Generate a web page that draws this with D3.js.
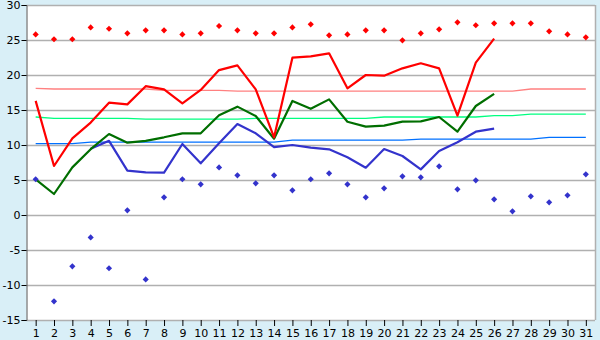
<!DOCTYPE html>
<html>
<head>
<meta charset="utf-8">
<script src="https://cdn.jsdelivr.net/npm/d3@7"></script>
<style>
  html, body { margin: 0; padding: 0; background: #d9eff7; }
  svg { display: block; }
  .tick text { font-family: "DejaVu Sans", sans-serif; font-size: 11px; fill: #000; }
</style>
</head>
<body>
<div id="chart"></div>
<script>
// days of the month
const days = d3.range(1, 32);

// daily max / mean / min (null = no data)
const maxT = [16.3, 7.0, 10.95, 13.2, 16.05, 15.8, 18.4, 17.95, 15.95, 17.86, 20.7, 21.38, 17.95, 11.1, 22.48, 22.65, 23.1, 18.1, 20.0, 19.9, 20.95, 21.67, 20.95, 14.2, 21.76, 25.2,
  null, null, null, null, null];
const meanT = [5.1, 3.0, 6.8, 9.4, 11.57, 10.33, 10.6, 11.1, 11.67, 11.67, 14.24, 15.48, 14.14, 10.9, 16.3, 15.17, 16.52, 13.33, 12.62, 12.76, 13.33, 13.38, 14.0, 11.9, 15.57, 17.3,
  null, null, null, null, null];
const minT = [null, null, null, 9.45, 10.6, 6.33, 6.1, 6.05, 10.14, 7.38, 10.24, 13.0, 11.67, 9.7, 10.0, 9.62, 9.38, 8.24, 6.76, 9.43, 8.43, 6.52, 9.14, 10.4, 11.9, 12.33,
  null, null, null, null, null];

// normals
const normMax = [18.1, 18.0, 18.0, 18.0, 18.0, 18.0, 18.0, 17.8, 17.8, 17.8, 17.8, 17.7, 17.7, 17.7, 17.7, 17.7, 17.7, 17.7, 17.7, 17.7, 17.7, 17.7, 17.7, 17.7, 17.7, 17.7, 17.7, 18.0, 18.0, 18.0, 18.0];
const normMean = [14.0, 13.8, 13.8, 13.8, 13.8, 13.8, 13.7, 13.7, 13.7, 13.7, 13.7, 13.7, 13.8, 13.8, 13.8, 13.8, 13.8, 13.8, 13.8, 14.0, 14.0, 14.0, 14.0, 14.0, 14.0, 14.2, 14.2, 14.4, 14.4, 14.4, 14.4];
const normMin = [10.2, 10.2, 10.2, 10.4, 10.4, 10.4, 10.4, 10.4, 10.4, 10.4, 10.4, 10.4, 10.4, 10.4, 10.7, 10.7, 10.7, 10.7, 10.7, 10.7, 10.7, 10.85, 10.85, 10.85, 10.85, 10.85, 10.85, 10.85, 11.1, 11.1, 11.1];

// records
const recHigh = [25.8, 25.1, 25.1, 26.8, 26.6, 25.95, 26.38, 26.38, 25.8, 25.95, 27.0, 26.38, 25.95, 25.95, 26.8, 27.24, 25.67, 25.8, 26.38, 26.38, 24.95, 25.95, 26.52, 27.52, 27.1, 27.38, 27.38, 27.38, 26.24, 25.8, 25.38];
const recLow = [5.1, -12.33, -7.33, -3.2, -7.6, 0.67, -9.2, 2.52, 5.1, 4.38, 6.8, 5.67, 4.52, 5.67, 3.52, 5.1, 5.95, 4.38, 2.52, 3.81, 5.52, 5.38, 6.95, 3.67, 4.95, 2.24, 0.52, 2.67, 1.81, 2.81, 5.81];

const yTicks = [-15, -10, -5, 0, 5, 10, 15, 20, 25, 30];

const width = 600, height = 340;
const margin = {top: 5, right: 5, bottom: 20, left: 26.5};

const svg = d3.select("#chart").append("svg")
  .attr("width", width).attr("height", height);

const x = d3.scalePoint()
  .domain(days)
  .range([margin.left, width - margin.right])
  .padding(0.5);

const y = d3.scaleLinear()
  .domain([-15, 30])
  .range([height - margin.bottom, margin.top]);

// plot background
svg.append("rect")
  .attr("x", margin.left).attr("y", margin.top)
  .attr("width", width - margin.right - margin.left)
  .attr("height", height - margin.bottom - margin.top)
  .attr("fill", "#fff");

// grid lines
svg.append("g")
  .selectAll("line").data(yTicks).join("line")
  .attr("x1", margin.left).attr("x2", width - margin.right)
  .attr("y1", d => Math.round(y(d)) + 0.5).attr("y2", d => Math.round(y(d)) + 0.5)
  .attr("stroke", "#b0b0b0").attr("stroke-width", 1.5);

// right border
svg.append("line")
  .attr("x1", width - margin.right + 0.5).attr("x2", width - margin.right + 0.5)
  .attr("y1", margin.top).attr("y2", height - margin.bottom)
  .attr("stroke", "#b0b0b0").attr("stroke-width", 1.5);

// axes
const yAxis = svg.append("g")
  .attr("transform", `translate(${margin.left},0)`)
  .call(d3.axisLeft(y).tickValues(yTicks).tickSize(5).tickFormat(d3.format("d")));
yAxis.select(".domain").attr("stroke", "#555");
yAxis.selectAll(".tick text").attr("x", -6).text(d => String(d));

const xAxis = svg.append("g")
  .attr("transform", `translate(0,${height - margin.bottom})`)
  .call(d3.axisBottom(x).tickSize(6).tickPadding(3));
xAxis.select(".domain").remove();
xAxis.selectAll(".tick line").attr("stroke", "#000");

// line generator
const line = (vals) => d3.line()
  .defined((d, i) => vals[i] != null)
  .x(d => x(d))
  .y((d, i) => y(vals[i]))(days);

// normals
[[normMax, "#ff8080"], [normMean, "#00ff80"], [normMin, "#0070ff"]].forEach(([vals, c]) => {
  svg.append("path")
    .attr("d", line(vals))
    .attr("fill", "none").attr("stroke", c).attr("stroke-width", 1.3);
});

// daily series
[[minT, "#3333cc"], [meanT, "#006e00"], [maxT, "#ff0000"]].forEach(([vals, c]) => {
  svg.append("path")
    .attr("d", line(vals))
    .attr("fill", "none").attr("stroke", c).attr("stroke-width", 2.2)
    .attr("stroke-linejoin", "round");
});

// record markers
const diamond = d3.symbol().type(d3.symbolDiamond2).size(24);
[[recHigh, "#ff0000"], [recLow, "#3333cc"]].forEach(([vals, c]) => {
  svg.append("g")
    .selectAll("path").data(days).join("path")
    .attr("transform", (d, i) => `translate(${x(d)},${y(vals[i])})`)
    .attr("d", diamond)
    .attr("fill", c);
});
</script>
</body>
</html>
